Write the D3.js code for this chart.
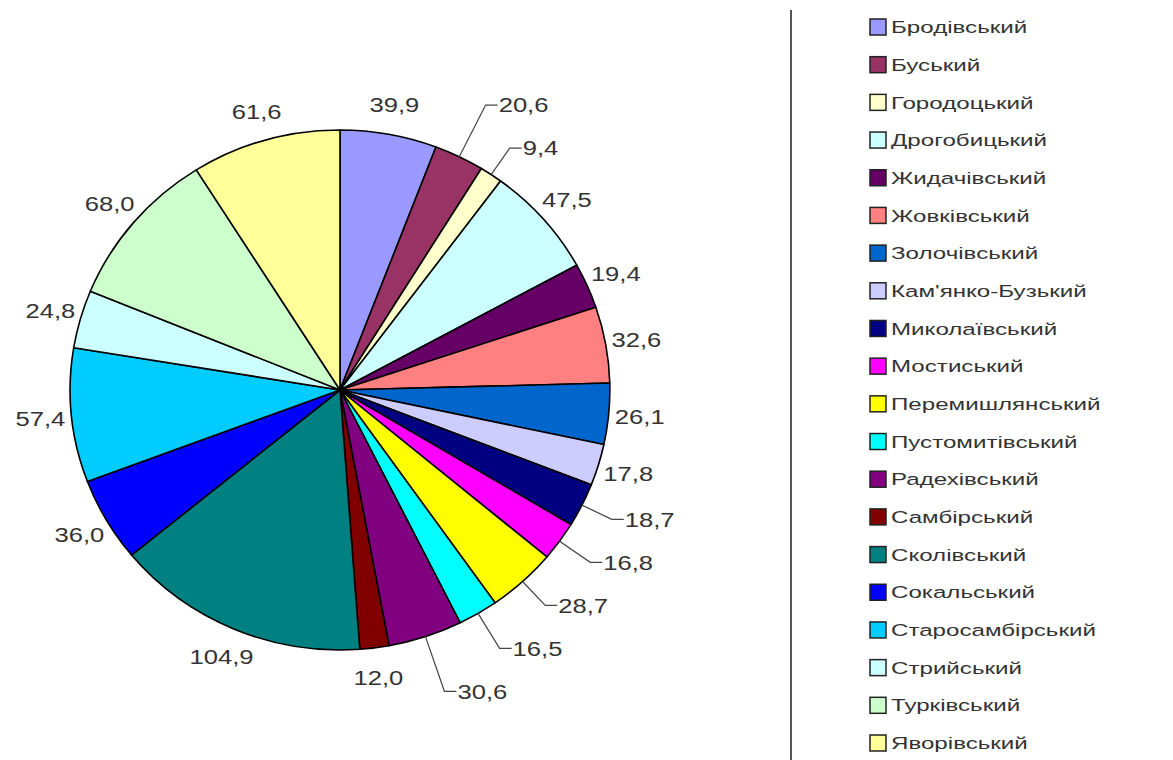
<!DOCTYPE html>
<html>
<head>
<meta charset="utf-8">
<script src="https://cdn.jsdelivr.net/npm/d3@7"></script>
<style>
  body { margin: 0; background: #fff; }
  svg { display: block; }
  text { font-family: "Liberation Sans", Arial, sans-serif; fill: #333; }
</style>
</head>
<body>
<div id="chart"></div>
<script>
var names = ['Бродівський', 'Буський', 'Городоцький', 'Дрогобицький', 'Жидачівський',
  'Жовківський', 'Золочівський', "Кам'янко-Бузький", 'Миколаївський', 'Мостиський',
  'Перемишлянський', 'Пустомитівський', 'Радехівський', 'Самбірський', 'Сколівський',
  'Сокальський', 'Старосамбірський', 'Стрийський', 'Турківський', 'Яворівський']

var values = [39.9, 20.6, 9.4, 47.5, 19.4, 32.6, 26.1, 17.8, 18.7, 16.8,
  28.7, 16.5, 30.6, 12.0, 104.9, 36.0, 57.4, 24.8, 68.0, 61.6]

var colors = ['#9999ff', '#993366', '#ffffcc', '#ccffff', '#660066',
  '#ff8080', '#0066cc', '#ccccff', '#000080', '#ff00ff',
  '#ffff00', '#00ffff', '#800080', '#800000', '#008080',
  '#0000ff', '#00ccff', '#ccffff', '#ccffcc', '#ffff99']

// labels that excel pulled out with a leader line
var leaderNames = ['Буський', 'Городоцький', 'Миколаївський', 'Мостиський',
  'Перемишлянський', 'Пустомитівський', 'Радехівський']

var data = names.map(function(d, i){ return {name: d, value: values[i], color: colors[i]} })

var width = 1173, height = 760
var cx = 340, cy = 390, r = 260, sx = 1.038
var labelR = 290, elbowR = 292, gap = 43
var txtScale = 1.28

var fmt = d3.formatLocale({decimal: ',', thousands: ' ', grouping: [3], currency: ['', '']}).format('.1f')

var svg = d3.select('#chart').append('svg')
  .attr('width', width).attr('height', height)

var pie = d3.pie().sort(null).value(function(d){ return d.value })
var arcs = pie(data)

var arc = d3.arc().innerRadius(0).outerRadius(r)

var g = svg.append('g')
  .attr('transform', 'translate(' + cx + ',' + cy + ') scale(' + sx + ',1)')

g.selectAll('path.slice').data(arcs).enter().append('path')
  .attr('class', 'slice')
  .attr('d', arc)
  .attr('fill', function(d){ return d.data.color })
  .attr('stroke', '#000')
  .attr('stroke-width', 1.6)
  .attr('stroke-linejoin', 'round')
  .attr('vector-effect', 'non-scaling-stroke')

function polar(a, rad){
  return [cx + Math.sin(a) * rad * sx, cy - Math.cos(a) * rad]
}

// leader labels: start on the elbow radius, then spread apart vertically
var leaders = arcs.filter(function(d){ return leaderNames.indexOf(d.data.name) >= 0 })
  .map(function(d){
    var mid = (d.startAngle + d.endAngle) / 2
    return {d: d, mid: mid, y: polar(mid, elbowR)[1]}
  })

var upper = leaders.filter(function(l){ return l.y < cy }).sort(function(a, b){ return b.y - a.y })
var lower = leaders.filter(function(l){ return l.y >= cy }).sort(function(a, b){ return a.y - b.y })
for (var i = 1; i < upper.length; i++) upper[i].y = Math.min(upper[i].y, upper[i-1].y - gap)
for (var i = 1; i < lower.length; i++) lower[i].y = Math.max(lower[i].y, lower[i-1].y + gap)

var labels = svg.append('g')

leaders.forEach(function(l){
  var p0 = polar(l.mid, r)
  var rad = (l.y - cy) / -Math.cos(l.mid)
  var p1 = polar(l.mid, rad)
  var p2 = [p1[0] + 12, p1[1]]
  labels.append('path')
    .attr('d', 'M' + p0 + 'L' + p1 + 'L' + p2)
    .attr('fill', 'none')
    .attr('stroke', '#444')
    .attr('stroke-width', 1.2)
  labels.append('text')
    .attr('transform', 'translate(' + (p2[0] + 1) + ',' + p2[1] + ') scale(' + txtScale + ',1)')
    .attr('dy', '0.36em')
    .attr('font-size', 20)
    .text(fmt(l.d.data.value))
})

arcs.filter(function(d){ return leaderNames.indexOf(d.data.name) < 0 })
  .forEach(function(d){
    var mid = (d.startAngle + d.endAngle) / 2
    var p = polar(mid, labelR)
    labels.append('text')
      .attr('transform', 'translate(' + p[0] + ',' + p[1] + ') scale(' + txtScale + ',1)')
      .attr('text-anchor', 'middle')
      .attr('dy', '0.36em')
      .attr('font-size', 20)
      .text(fmt(d.data.value))
  })

// legend
svg.append('line')
  .attr('x1', 791).attr('x2', 791)
  .attr('y1', 10).attr('y2', height)
  .attr('stroke', '#555').attr('stroke-width', 2)

var ly = d3.scalePoint().domain(names).range([27, 743])

var leg = svg.append('g').selectAll('g').data(data).enter().append('g')
  .attr('transform', function(d){ return 'translate(870,' + ly(d.name) + ')' })

leg.append('rect')
  .attr('x', 0).attr('y', -8)
  .attr('width', 16).attr('height', 16)
  .attr('fill', function(d){ return d.color })
  .attr('stroke', '#222')
  .attr('stroke-width', 1.5)

leg.append('text')
  .attr('transform', 'translate(21,0) scale(1.42,1)')
  .attr('dy', '0.36em')
  .attr('font-size', 17)
  .text(function(d){ return d.name })
</script>
</body>
</html>
